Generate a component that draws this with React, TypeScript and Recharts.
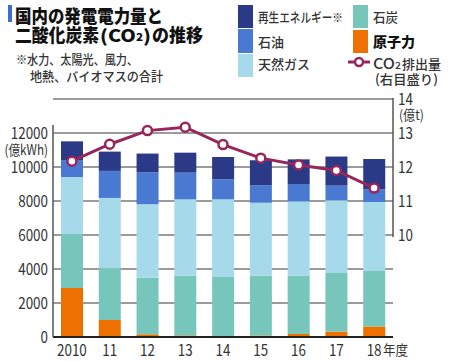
import React from 'react';
import {
  ComposedChart, Bar, Line, XAxis, YAxis, CartesianGrid
} from 'recharts';

// 年度 (2010 - 2018)
const years = ['2010', '11', '12', '13', '14', '15', '16', '17', '18'];
// 発電電力量 (億kWh)
const nuclear = [2880, 1000, 160, 93, 0, 94, 180, 320, 620];
const coal = [3180, 3040, 3330, 3515, 3530, 3514, 3430, 3450, 3260];
const lng = [3350, 4140, 4320, 4490, 4570, 4294, 4370, 4270, 4060];
const oil = [1000, 1590, 1880, 1570, 1180, 1020, 1020, 865, 745];
const renew = [1100, 1135, 1100, 1175, 1310, 1480, 1450, 1710, 1785];
// CO2排出量 (億t)
const co2 = [12.17, 12.67, 13.07, 13.17, 12.66, 12.26, 12.06, 11.9, 11.38];

const leftTicks = [0, 2000, 4000, 6000, 8000, 10000, 12000, 14000];
const rightTicks = [10, 11, 12, 13, 14];

const C = {
  renew: '#2b3a86',
  oil: '#4a79d2',
  lng: '#a6d9ea',
  coal: '#76c6bc',
  nuclear: '#ee7100',
  co2: '#97275a',
  grid: '#7a7a7a',
  text: '#333',
};

const FONT = '"Noto Sans CJK JP", "Noto Sans", sans-serif';

const data = years.map((year, i) => ({
  year,
  nuclear: nuclear[i],
  coal: coal[i],
  lng: lng[i],
  oil: oil[i],
  renew: renew[i],
  co2: co2[i],
}));

const LeftTick = (props: any) => {
  const { x, y, payload } = props;
  if (payload.value === 14000) return null;
  return (
    <g transform={`translate(${x},${y})`}>
      <text transform="scale(0.84,1)" textAnchor="end" dy="0.36em" fontSize={16} fill={C.text} fontFamily={FONT}>
        {payload.value}
      </text>
    </g>
  );
};

const RightTick = (props: any) => {
  const { x, y, payload } = props;
  return (
    <g transform={`translate(${x},${y})`}>
      <text transform="scale(0.84,1)" textAnchor="start" dy="0.36em" fontSize={16} fill={C.text} fontFamily={FONT}>
        {payload.value}
      </text>
    </g>
  );
};

const YearTick = (props: any) => {
  const { x, y, payload } = props;
  const last = payload.value === '18';
  return (
    <g transform={`translate(${x},${y})`}>
      <text transform="scale(0.84,1)" textAnchor="middle" dy="0.71em" fontSize={16} fill={C.text} fontFamily={FONT}>
        {payload.value}
      </text>
      {last && (
        <text x={9} dy="0.71em" fontSize={14} fill={C.text} fontFamily={FONT} textLength={25} lengthAdjust="spacingAndGlyphs">年度</text>
      )}
    </g>
  );
};

// fixed-width label helper
const T = (p: any) => (
  <text
    x={p.x}
    y={p.y}
    fontSize={p.size || 13}
    fontWeight={p.bold ? 900 : 500}
    fill={p.bold ? '#111' : C.text}
    fontFamily={FONT}
    textLength={p.w}
    lengthAdjust="spacingAndGlyphs"
  >
    {p.children}
  </text>
);

export default function App() {
  return (
    <div style={{ position: 'absolute', left: 0, top: 0, width: 450, height: 361, background: '#fff', fontFamily: FONT }}>
      <ComposedChart
        width={450}
        height={361}
        data={data}
        margin={{ top: 99, right: 0, bottom: 0, left: 0 }}
        barSize={22}
      >
        <CartesianGrid yAxisId="left" vertical={false} stroke={C.grid} strokeWidth={1.3} />
        <XAxis
          dataKey="year"
          height={24}
          interval={0}
          tickLine={false}
          tickSize={6}
          tickMargin={2}
          axisLine={{ stroke: '#222', strokeWidth: 2 }}
          tick={<YearTick />}
        />
        <YAxis
          yAxisId="left"
          width={53}
          domain={[0, 14000]}
          ticks={leftTicks}
          interval={0}
          axisLine={false}
          tickLine={false}
          tickSize={3}
          tickMargin={2}
          tick={<LeftTick />}
        />
        <YAxis
          yAxisId="right"
          orientation="right"
          width={57}
          domain={[7, 14]}
          ticks={rightTicks}
          interval={0}
          axisLine={false}
          tickLine={false}
          tickSize={3}
          tickMargin={2}
          tick={<RightTick />}
        />
        <Bar yAxisId="left" dataKey="nuclear" stackId="a" fill={C.nuclear} isAnimationActive={false} />
        <Bar yAxisId="left" dataKey="coal" stackId="a" fill={C.coal} isAnimationActive={false} />
        <Bar yAxisId="left" dataKey="lng" stackId="a" fill={C.lng} isAnimationActive={false} />
        <Bar yAxisId="left" dataKey="oil" stackId="a" fill={C.oil} isAnimationActive={false} />
        <Bar yAxisId="left" dataKey="renew" stackId="a" fill={C.renew} isAnimationActive={false} />
        <Line
          yAxisId="right"
          dataKey="co2"
          stroke={C.co2}
          strokeWidth={3}
          dot={{ r: 4.5, fill: '#fff', stroke: C.co2, strokeWidth: 2.5 }}
          isAnimationActive={false}
        />
      </ComposedChart>

      <svg width={450} height={361} style={{ position: 'absolute', left: 0, top: 0, pointerEvents: 'none' }}>
        {/* axis lines (left runs up to ~12450, right one spans 10-14) */}
        <line x1={53} y1={125} x2={53} y2={337} stroke="#555" strokeWidth={1.5} />
        <line x1={393} y1={98} x2={393} y2={237} stroke="#555" strokeWidth={1.5} />

        {/* Title */}
        <rect x={8} y={5} width={4} height={17} fill="#3d6fc9" />
        <T x={15} y={23} size={18.5} bold w={148}>国内の発電電力量と</T>
        <T x={15} y={42} size={18.5} bold w={84}>二酸化炭素</T>
        <text x={100} y={42} fontSize={17} fontWeight={900} fill="#111" fontFamily={FONT} textLength={51} lengthAdjust="spacingAndGlyphs">
          (CO<tspan fontSize={10} dy={-1}>2</tspan><tspan dy={1}>)</tspan>
        </text>
        <T x={152} y={42} size={18.5} bold w={51}>の推移</T>

        <T x={16} y={64} w={122}>※水力、太陽光、風力、</T>
        <T x={30} y={81} w={133}>地熱、バイオマスの合計</T>

        {/* Legend */}
        <rect x={238} y={5} width={15} height={23} fill={C.renew} />
        <rect x={238} y={29} width={15} height={24} fill={C.oil} />
        <rect x={238} y={54} width={15} height={23} fill={C.lng} />
        <rect x={353} y={5} width={15} height={23} fill={C.coal} />
        <rect x={353} y={30} width={15} height={23} fill={C.nuclear} />
        <T x={258} y={21.5} w={85}>再生エネルギー※</T>
        <T x={258} y={46.5} w={26}>石油</T>
        <T x={258} y={69} w={52}>天然ガス</T>
        <T x={373} y={21.5} w={25}>石炭</T>
        <T x={373} y={46.5} size={14} bold w={42}>原子力</T>
        <line x1={348} y1={62} x2={370} y2={62} stroke={C.co2} strokeWidth={3} />
        <circle cx={359} cy={62} r={4} fill="#fff" stroke={C.co2} strokeWidth={2.5} />
        <T x={373} y={69} size={14} w={22}>CO</T>
        <T x={395} y={69} size={9} w={6}>2</T>
        <T x={402} y={69} w={39}>排出量</T>
        <T x={375} y={84} w={63}>(右目盛り)</T>

        {/* Axis units */}
        <g transform="translate(48,155)">
          <text transform="scale(0.84,1)" textAnchor="end" fontSize={14} fill={C.text} fontFamily={FONT}>(億kWh)</text>
        </g>
        <g transform="translate(399,120)">
          <text transform="scale(0.9,1)" fontSize={13.5} fill={C.text} fontFamily={FONT}>(億t)</text>
        </g>
      </svg>
    </div>
  );
}
